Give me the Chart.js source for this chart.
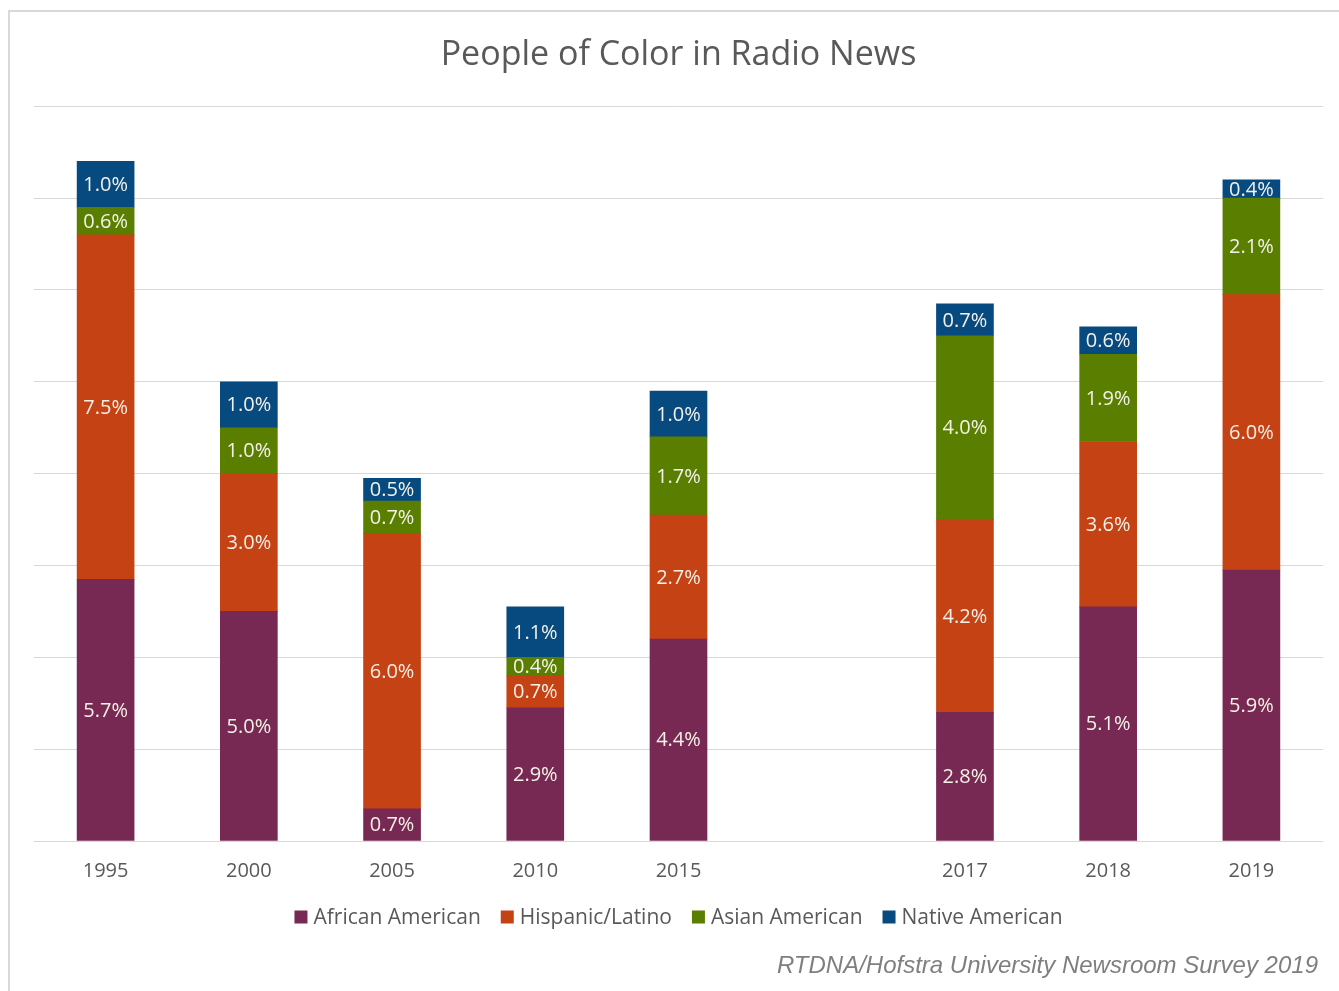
<!DOCTYPE html>
<html>
<head>
<meta charset="utf-8">
<script src="https://cdn.jsdelivr.net/npm/chart.js@4/dist/chart.umd.min.js"></script>
<style>
  html, body { margin: 0; padding: 0; background: #fff; }
  #frame { position: absolute; left: 8px; top: 10px; width: 1340px; height: 990px;
           border: 2px solid #d9d9d9; box-sizing: border-box; }
  #wrap { position: absolute; left: 0; top: 0; width: 1339px; height: 991px; }
</style>
</head>
<body>
<div id="frame"></div>
<div id="wrap"><canvas id="c" width="1339" height="991"></canvas></div>
<script>
// Survey years (the blank slot separates the five-year series from the annual one)
const years = ['1995', '2000', '2005', '2010', '2015', '', '2017', '2018', '2019'];

// Share of radio newsroom staff, percent
const africanAmerican = [5.7, 5.0, 0.7, 2.9, 4.4, null, 2.8, 5.1, 5.9];
const hispanicLatino  = [7.5, 3.0, 6.0, 0.7, 2.7, null, 4.2, 3.6, 6.0];
const asianAmerican   = [0.6, 1.0, 0.7, 0.4, 1.7, null, 4.0, 1.9, 2.1];
const nativeAmerican  = [1.0, 1.0, 0.5, 1.1, 1.0, null, 0.7, 0.6, 0.4];

const seriesNames = ['African American', 'Hispanic/Latino', 'Asian American', 'Native American'];
const seriesColors = ['#772953', '#C44214', '#5A7F00', '#064A80'];
const seriesValues = [africanAmerican, hispanicLatino, asianAmerican, nativeAmerican];

const FONT = '"Open Sans", Lato, sans-serif';

// Writes each segment's value in the middle of its bar piece
const segmentLabels = {
  id: 'segmentLabels',
  afterDatasetsDraw(chart) {
    const ctx = chart.ctx;
    ctx.save();
    ctx.font = '20px ' + FONT;
    ctx.fillStyle = '#F4F1E8';
    ctx.textAlign = 'center';
    ctx.textBaseline = 'middle';
    chart.data.datasets.forEach((ds, di) => {
      const meta = chart.getDatasetMeta(di);
      meta.data.forEach((bar, i) => {
        const v = ds.data[i];
        if (v == null) return;
        const y = (bar.y + bar.base) / 2;
        ctx.fillText(v.toFixed(1) + '%', bar.x, y + 1);
      });
    });
    ctx.restore();
  }
};

// Series key under the axis: square swatch, name, evenly spaced, centred on the plot
const seriesKey = {
  id: 'seriesKey',
  afterDraw(chart) {
    const ctx = chart.ctx;
    const box = 13, gapText = 6, gapItem = 20, y = 917;
    ctx.save();
    ctx.font = '21px ' + FONT;
    ctx.textBaseline = 'middle';
    ctx.textAlign = 'left';
    const items = chart.data.datasets.map(ds => ({
      text: ds.label, color: ds.backgroundColor, w: ctx.measureText(ds.label).width
    }));
    const total = items.reduce((s, it) => s + box + gapText + it.w, 0) + gapItem * (items.length - 1);
    const area = chart.chartArea;
    let x = (area.left + area.right) / 2 - total / 2;
    items.forEach(it => {
      ctx.fillStyle = it.color;
      ctx.fillRect(x, y - box / 2, box, box);
      ctx.fillStyle = '#595959';
      ctx.fillText(it.text, x + box + gapText, y + 1);
      x += box + gapText + it.w + gapItem;
    });
    ctx.restore();
  }
};

// Source line in the lower right corner
const sourceNote = {
  id: 'sourceNote',
  afterDraw(chart) {
    const ctx = chart.ctx;
    ctx.save();
    ctx.font = 'italic 24px "Liberation Sans", Arial, sans-serif';
    ctx.fillStyle = '#7F7F7F';
    ctx.textAlign = 'right';
    ctx.textBaseline = 'middle';
    ctx.fillText('RTDNA/Hofstra University Newsroom Survey 2019', 1318, 966);
    ctx.restore();
  }
};

new Chart(document.getElementById('c'), {
  type: 'bar',
  data: {
    labels: years,
    datasets: seriesNames.map((name, k) => ({
      label: name,
      data: seriesValues[k],
      backgroundColor: seriesColors[k],
      borderWidth: 0,
      barThickness: 57
    }))
  },
  options: {
    responsive: false,
    animation: false,
    layout: { padding: { left: 34, right: 16, top: 0, bottom: 98 } },
    plugins: {
      title: {
        display: true,
        text: 'People of Color in Radio News',
        color: '#595959',
        font: { family: FONT, size: 34, weight: 'normal' },
        padding: { top: 35, bottom: 30.5 }
      },
      legend: { display: false },
      tooltip: { enabled: false }
    },
    scales: {
      x: {
        stacked: true,
        grid: { display: false },
        border: { display: false },
        ticks: { color: '#595959', font: { family: FONT, size: 20 }, padding: 10 }
      },
      y: {
        stacked: true,
        min: 0,
        max: 16,
        ticks: { display: false, stepSize: 2 },
        grid: { color: '#D9D9D9', lineWidth: 1, drawTicks: false },
        border: { display: false }
      }
    }
  },
  plugins: [segmentLabels, seriesKey, sourceNote]
});
</script>
</body>
</html>
